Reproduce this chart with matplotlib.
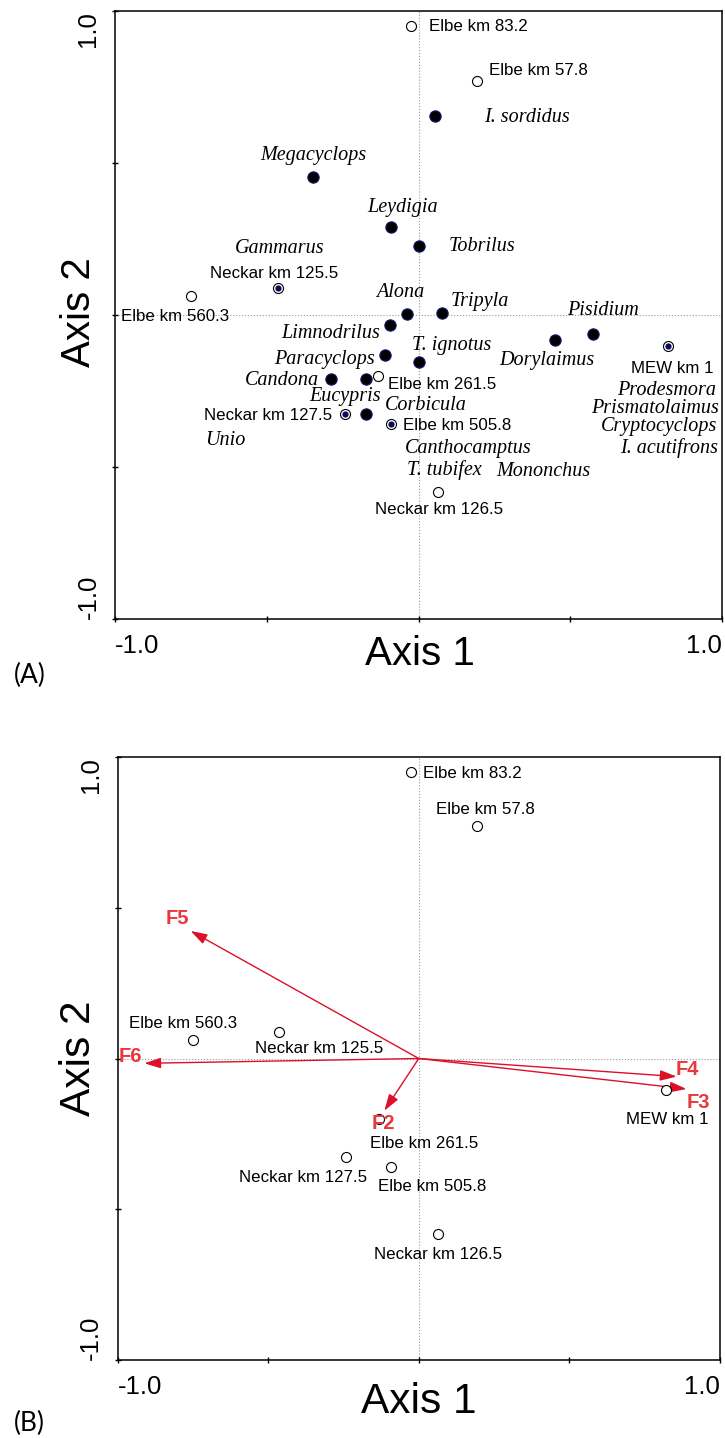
import matplotlib
matplotlib.use('Agg')
import matplotlib.pyplot as plt

# site scores (same in both panels)
site_names = ['Elbe km 83.2', 'Elbe km 57.8', 'Elbe km 560.3', 'Neckar km 125.5',
              'Elbe km 261.5', 'Neckar km 127.5', 'Elbe km 505.8', 'Neckar km 126.5',
              'MEW km 1']
site_x = [-0.026, 0.194, -0.748, -0.463, -0.133, -0.243, -0.091, 0.065, 0.822]
site_y = [0.950, 0.770, 0.063, 0.088, -0.200, -0.327, -0.360, -0.582, -0.103]

# species scores with their own symbol
species_names = ['I. sordidus', 'Megacyclops', 'Leydigia', 'Tobrilus', 'Alona', 'Tripyla',
                 'Pisidium', 'Limnodrilus', 'T. ignotus', 'Dorylaimus', 'Paracyclops',
                 'Candona', 'Eucypris', 'Corbicula']
species_x = [0.055, -0.348, -0.092, 0.003, -0.039, 0.077, 0.574, -0.093, 0.000, 0.450,
             -0.110, -0.288, -0.172, -0.172]
species_y = [0.653, 0.454, 0.288, 0.226, 0.002, 0.005, -0.064, -0.034, -0.154, -0.081,
             -0.132, -0.211, -0.212, -0.326]

# species lying on a site point
shared_species = ['Gammarus', 'Unio', 'Canthocamptus', 'T. tubifex', 'Mononchus',
                  'Prodesmora', 'Prismatolaimus', 'Cryptocyclops', 'I. acutifrons']
shared_site = ['Neckar km 125.5', 'Neckar km 127.5', 'Elbe km 505.8', 'Elbe km 505.8',
               'Elbe km 505.8', 'MEW km 1', 'MEW km 1', 'MEW km 1', 'MEW km 1']

# environmental variables (panel B)
env_names = ['F2', 'F3', 'F4', 'F5', 'F6']
env_x = [-0.114, 0.889, 0.856, -0.757, -0.911]
env_y = [-0.173, -0.101, -0.060, 0.423, -0.016]

# label placement: (dx, dy) in pixels, horizontal alignment
site_lab_a = {
    'Elbe km 83.2': (18, 0, 'left'), 'Elbe km 57.8': (12, 10, 'left'),
    'Elbe km 560.3': (-16, -21, 'center'), 'Neckar km 125.5': (-4, 15, 'center'),
    'Elbe km 261.5': (10, -9, 'left'), 'Neckar km 127.5': (-13, -1, 'right'),
    'Elbe km 505.8': (12, -1, 'left'), 'Neckar km 126.5': (1, -18, 'center'),
    'MEW km 1': (46, -22, 'right')}
species_lab = {
    'I. sordidus': (49, -1, 'left'), 'Megacyclops': (0, 21, 'center'),
    'Leydigia': (12, 20, 'center'), 'Tobrilus': (29, 0, 'left'),
    'Alona': (-6, 22, 'center'), 'Tripyla': (9, 12, 'left'),
    'Pisidium': (10, 24, 'center'), 'Limnodrilus': (-10, -8, 'right'),
    'T. ignotus': (-6, 16, 'left'), 'Dorylaimus': (-8, -21, 'center'),
    'Paracyclops': (-10, -4, 'right'), 'Candona': (-12, -1, 'right'),
    'Eucypris': (-21, -17, 'center'), 'Corbicula': (19, 9, 'left'),
    'Gammarus': (2, 40, 'center'), 'Unio': (-140, -26, 'left'),
    'Canthocamptus': (14, -24, 'left'), 'T. tubifex': (16, -46, 'left'),
    'Mononchus': (105, -47, 'left'), 'Prodesmora': (48, -44, 'right'),
    'Prismatolaimus': (51, -62, 'right'), 'Cryptocyclops': (49, -80, 'right'),
    'I. acutifrons': (50, -102, 'right')}
site_lab_b = {
    'Elbe km 83.2': (12, -1, 'left'), 'Elbe km 57.8': (8, 17, 'center'),
    'Elbe km 560.3': (-10, 16, 'center'), 'Neckar km 125.5': (40, -17, 'center'),
    'Elbe km 261.5': (45, -25, 'center'), 'Neckar km 127.5': (-42, -20, 'center'),
    'Elbe km 505.8': (41, -19, 'center'), 'Neckar km 126.5': (0, -21, 'center'),
    'MEW km 1': (1, -30, 'center')}
env_lab = {'F2': (-1, -13), 'F3': (12, -14), 'F4': (11, 7), 'F5': (-13, 12), 'F6': (-14, 7)}

sans = 'Liberation Sans'
serif = 'Liberation Serif'
red_line = '#dc1028'
red_text = '#e8383d'


def setup(ax):
    ax.set_xlim(-1, 1)
    ax.set_ylim(-1, 1)
    ax.axhline(0, color='#9a9a9a', ls=':', lw=0.8, zorder=0)
    ax.axvline(0, color='#9a9a9a', ls=':', lw=0.8, zorder=0)
    for s in ax.spines.values():
        s.set_linewidth(1.1)
    ticks = [-1, -0.5, 0, 0.5, 1]
    ax.set_xticks(ticks)
    ax.set_yticks(ticks)
    ax.set_xticklabels(['-1.0', '', '', '', '1.0'], fontsize=18.5, family=sans)
    ax.set_yticklabels(['-1.0', '', '', '', '1.0'], fontsize=18.5, family=sans, rotation=90)
    xl = ax.get_xticklabels()
    xl[0].set_ha('left')
    xl[-1].set_ha('right')
    yl = ax.get_yticklabels()
    yl[0].set_va('bottom')
    yl[-1].set_va('top')
    ax.tick_params(direction='inout', length=5, width=1, pad=8)


def label(ax, text, x, y, dx, dy, ha, **kw):
    ax.annotate(text, (x, y), xytext=(dx, dy), textcoords='offset pixels',
                ha=ha, va='center', zorder=6, **kw)


fig = plt.figure(figsize=(7.25, 14.38), dpi=100)
H = 1438.0
W = 725.0

# ---------------- panel A
axA = fig.add_axes([115 / W, 1 - 619 / H, 607 / W, 608 / H])
setup(axA)
axA.scatter(species_x, species_y, s=66, c='black', edgecolors='#16166e', linewidths=0.8, zorder=3)
axA.scatter(site_x, site_y, s=52, facecolors='white', edgecolors='black', linewidths=0.8, zorder=4)
sx = [site_x[site_names.index(s)] for s in sorted(set(shared_site))]
sy = [site_y[site_names.index(s)] for s in sorted(set(shared_site))]
axA.scatter(sx, sy, s=20, c='#0b0b5c', linewidths=0, zorder=5)

for n, x, y in zip(site_names, site_x, site_y):
    dx, dy, ha = site_lab_a[n]
    label(axA, n, x, y, dx, dy, ha, fontsize=12.2, family=sans)
for n, x, y in zip(species_names, species_x, species_y):
    dx, dy, ha = species_lab[n]
    label(axA, n, x, y, dx, dy, ha, fontsize=14.5, family=serif, style='italic')
for n, s in zip(shared_species, shared_site):
    i = site_names.index(s)
    dx, dy, ha = species_lab[n]
    label(axA, n, site_x[i], site_y[i], dx, dy, ha, fontsize=14.5, family=serif, style='italic')

# ---------------- panel B
axB = fig.add_axes([117.5 / W, 1 - 1360 / H, 602.5 / W, 603 / H])
setup(axB)
for n, x, y in zip(env_names, env_x, env_y):
    axB.annotate('', xy=(x, y), xytext=(0, 0),
                 arrowprops=dict(arrowstyle='-|>,head_length=1.0,head_width=0.32',
                                 color=red_line, lw=1.0, mutation_scale=10,
                                 shrinkA=0, shrinkB=0), zorder=2)
    dx, dy = env_lab[n]
    label(axB, n, x, y, dx, dy, 'center', fontsize=14.5, family=sans,
          fontweight='bold', color=red_text)
axB.scatter(site_x, site_y, s=52, facecolors='white', edgecolors='black', linewidths=0.8, zorder=4)
for n, x, y in zip(site_names, site_x, site_y):
    dx, dy, ha = site_lab_b[n]
    label(axB, n, x, y, dx, dy, ha, fontsize=12.2, family=sans)

# axis titles and panel letters
fig.text(420 / W, 1 - 665 / H, 'Axis 1', fontsize=29, family=sans, ha='center', va='baseline')
fig.text(419 / W, 1 - 1413 / H, 'Axis 1', fontsize=30.5, family=sans, ha='center', va='baseline')
fig.text(79 / W, 1 - 312 / H, 'Axis 2', fontsize=29, family=sans, ha='center', va='center', rotation=90)
fig.text(79 / W, 1 - 1058 / H, 'Axis 2', fontsize=30.5, family=sans, ha='center', va='center', rotation=90)
fig.text(14 / W, 1 - 675 / H, '(A)', fontsize=19, family='Lato', ha='left', va='center')
fig.text(14 / W, 1 - 1423 / H, '(B)', fontsize=19, family='Lato', ha='left', va='center')

fig.savefig('out.png', dpi=100)
